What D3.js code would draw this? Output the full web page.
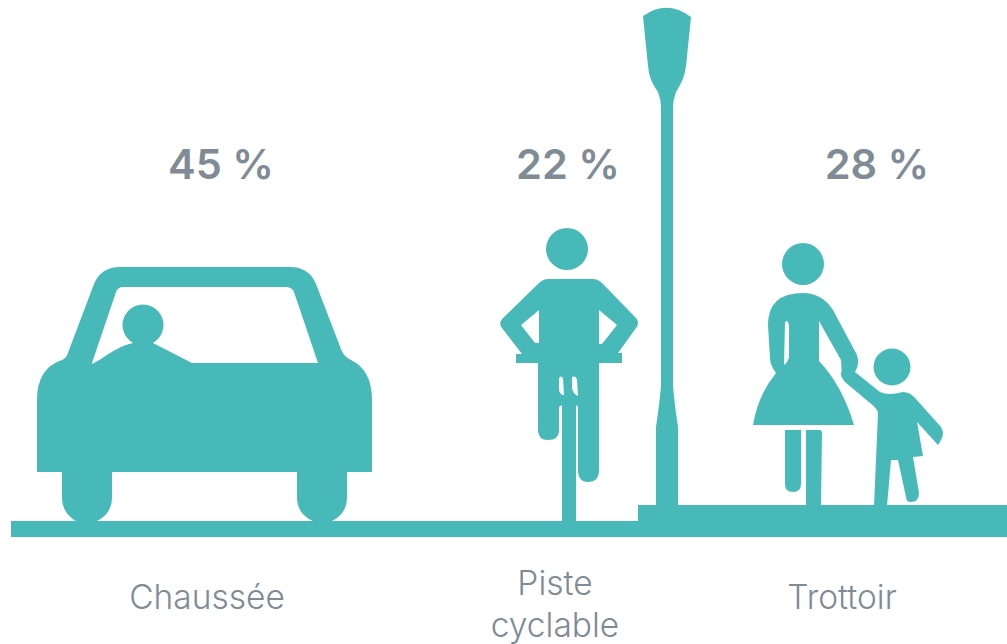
<!DOCTYPE html>
<html lang="fr">
<head>
  <meta charset="UTF-8" />
  <title>Chaussée, piste cyclable, trottoir</title>
  <style>
    html, body { margin: 0; padding: 0; background: #fff; }
    svg { display: block; }
    text { font-family: "Inter", "Noto Sans", sans-serif; fill: #7f8b95; }
    .value { font-size: 41.5px; font-weight: 600; }
    .name { font-size: 33.5px; font-weight: 300; }
  </style>
  <script src="https://d3js.org/d3.v7.min.js"></script>
</head>
<body>
  <svg width="1007" height="644"></svg>
  <script>
    const categories = ["Chaussée", "Piste cyclable", "Trottoir"];
    const shares = [45, 22, 28];
    const nameLines = [["Chaussée"], ["Piste", "cyclable"], ["Trottoir"]];

    const teal = "#48b9b9";
    const svg = d3.select("svg");

    // the columns are not evenly spaced in the picture
    const xValue = d3.scaleOrdinal().domain(categories).range([221, 568, 877]);
    const xName = d3.scaleOrdinal().domain(categories).range([207, 555, 842]);

    // pictograms
    const road = "M11 521 H638 V505 H1007 V537 H11 Z";

    const car = `M37 472 V400 Q37 368 62 360 Q67 358 69 350 L94 284 Q101 267 120 267 H290 Q309 267 316 284
      L341 349 Q344 357 351 360 Q372 370 372 400 V472 H347 V497 C347 510 340 517 332 521 H313 C304 517 297 510 297 497 V472
      H112 V497 C112 510 105 517 97 521 H76 C69 517 62 510 62 497 V472 Z
      M92 363 L116 292 Q118 287 123 287 H285 Q292 287 294 292 L318 363 H192 L153 343
      A20.5 20.5 0 1 0 133 343 C113 348 105 358 92 364 Z`;

    const cyclist = `M548 279 H593 Q598 279 603 284 L636 318 Q640 323 636 328 L618 353 H622 V363 H599 V470
      Q599 482 588 482 Q578 482 578 470 V407 L576 405 V521 H562 V405 L559 407 V430 Q559 440 548 440 Q538 440 538 430
      V363 H516 V354 H522 L502 328 Q498 323 503 318 L538 284 Q543 279 548 279 Z
      M521 325 L539 310 V343 H535 Z M599 310 L617 325 L602 344 H599 Z
      M559 378 Q561 375 563 378 L564 395 Q560 395 559 390 Z M572 377 Q576 375 577 380 L578 396 Q573 394 572 388 Z`;

    const lamp = `M643 16 Q667 -1 691 17 L686 66 Q685 78 676 92 Q673 100 673 107 V385 Q674 400 678 427 V505 H656 V427
      Q660 400 661 385 V107 Q661 100 658 92 Q649 80 648 66 Z`;

    const woman = `M803 293 Q822 293 833 310 L857 355 Q860 365 855 372 L842 378 L841 360 L819 321 V361
      Q842 385 854 425 H753 Q758 395 776 373 Q770 365 770 358 L768 325 Q768 293 803 293 Z
      M785 322 Q788 319 789 326 V357 Q788 362 784 365 Z
      M785 430 H801 V484 Q801 492 793 492 Q785 492 785 484 Z
      M806 430 H819 Q822 430 822 433 L821 506 H806 Z`;

    const child = `M855 372 L880 392 Q888 396 903 392 Q910 392 915 398 L941 427 Q945 433 941 440 L938 445 L917 422
      L923 456 L913 457 L919 493 Q919 502 911 502 Q906 502 906 497 L898 460 H891 L887 506 H874 L878 413
      Q877 408 870 403 L845 382 Q840 376 841 372 Z`;

    const heads = [
      { cx: 567, cy: 249, r: 21 },
      { cx: 803, cy: 264, r: 21 },
      { cx: 892, cy: 367, r: 18.5 }
    ];

    const icons = svg.append("g").attr("fill", teal);
    icons.selectAll("path")
      .data([road, car, cyclist, lamp, woman, child])
      .join("path")
      .attr("d", d => d)
      .attr("fill-rule", "evenodd");
    icons.selectAll("circle")
      .data(heads)
      .join("circle")
      .attr("cx", d => d.cx)
      .attr("cy", d => d.cy)
      .attr("r", d => d.r);

    svg.selectAll("text.value")
      .data(categories)
      .join("text")
      .attr("class", "value")
      .attr("x", d => xValue(d))
      .attr("y", 179)
      .attr("text-anchor", "middle")
      .text((d, i) => `${shares[i]} %`);

    const names = svg.selectAll("text.name")
      .data(categories)
      .join("text")
      .attr("class", "name")
      .attr("text-anchor", "middle");

    names.selectAll("tspan")
      .data((d, i) => nameLines[i].map((line, j) => ({ d, line, j, n: nameLines[i].length })))
      .join("tspan")
      .attr("x", t => xName(t.d))
      .attr("y", t => t.n === 1 ? 609 : 595 + t.j * 42)
      .text(t => t.line);
  </script>
</body>
</html>
